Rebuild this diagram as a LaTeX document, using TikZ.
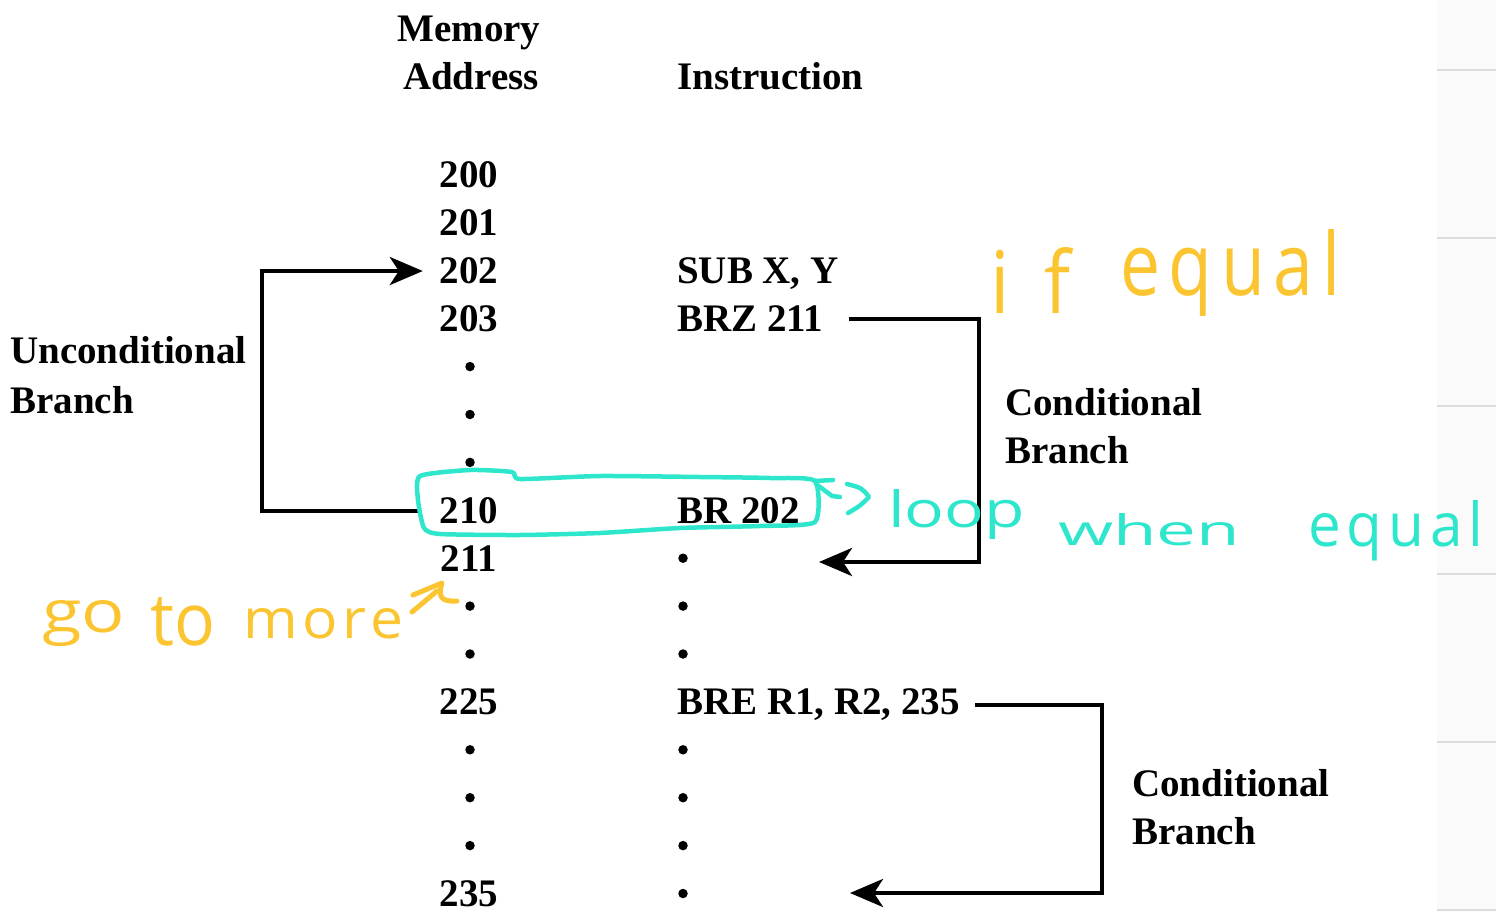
\documentclass[tikz,border=0pt]{standalone}
\usepackage{fontspec}
\usepackage{graphicx}
\setmainfont{Liberation Serif}
\newfontfamily\hand{Open Sans}
\usetikzlibrary{arrows.meta}
\definecolor{penyellow}{HTML}{FBC531}
\definecolor{pencyan}{HTML}{2EE6CC}
\definecolor{stripfill}{HTML}{FAFAFA}
\definecolor{stripline}{HTML}{DCDCDC}
\newcommand\tb{\bfseries\fontsize{39}{47}\selectfont}
% handwritten word scaled into a box of given width and height
\newcommand\hw[3]{\resizebox{#1}{#2}{\hand #3}}

\begin{document}
\begin{tikzpicture}[x=1pt,y=-1pt,
  addr/.style={font=\tb, inner sep=0pt, minimum width=100pt, anchor=base},
  instr/.style={font=\tb, inner sep=0pt, anchor=base west},
  lbl/.style={font=\tb, inner sep=0pt, anchor=base west},
  dotnode/.style={circle, fill=black, inner sep=0pt, minimum size=9.5pt},
  flow/.style={line width=4pt, line join=miter,
    -{Stealth[length=33pt,width=28pt,inset=9pt]}},
  handy/.style={inner sep=0pt, anchor=base west},
  strokey/.style={penyellow, line width=5pt, line cap=round, line join=round},
  strokec/.style={pencyan, line width=4.5pt, line cap=round, line join=round}]
\useasboundingbox (0,0) rectangle (1496,912);

% page strip on the right
\fill[stripfill] (1437,0) rectangle (1496,912);
\foreach \yy in {70,238,406,574,742,910}
  \draw[stripline, line width=1.5pt] (1437,\yy) -- (1496,\yy);

% column headings
\node[font=\tb, inner sep=0pt, anchor=base] (hmem) at (469,42) {Memory};
\node[font=\tb, inner sep=0pt, anchor=base] (hadr) at (471,90) {Address};
\node[lbl] (hins) at (677,90) {Instruction};

% memory addresses
\foreach \r/\t in {0/200,1/201,2/202,3/203,7/210,8/211,11/225,15/235}
  \node[addr] (a\t) at (469,{175+\r*47.9+13}) {\t};
\foreach \r in {4,5,6,9,10,12,13,14}
  \node[dotnode] (ad\r) at (470,{175+\r*47.9}) {};

% instructions
\node[instr] (i202) at (677,{175+2*47.9+13}) {SUB X, Y};
\node[instr] (i203) at (677,{175+3*47.9+13}) {BRZ 211};
\node[instr] (i210) at (677,{175+7*47.9+13}) {BR 202};
\node[instr] (i225) at (677,{175+11*47.9+13}) {BRE R1, R2, 235};
\foreach \r in {8,9,10,12,13,14,15}
  \node[dotnode] (id\r) at (683,{175+\r*47.9}) {};

% branch labels
\node[lbl] (ul1) at (10,363) {Unconditional};
\node[lbl] (ul2) at (10,413) {Branch};
\node[lbl] (cl1) at (1005,415) {Conditional};
\node[lbl] (cl2) at (1005,463) {Branch};
\node[lbl] (dl1) at (1132,796) {Conditional};
\node[lbl] (dl2) at (1132,844) {Branch};

% branch arrows
\coordinate (t211) at (819,562);
\coordinate (t235) at (850,893);
\draw[flow] (a210.west) -- ++(-157,0) |- ([xshift=4pt]a202.west);
\draw[flow] ([xshift=25pt]i203.east) -- ++(130,0) |- (t211);
\draw[flow] ([xshift=15pt]i225.east) -- ++(127,0) |- (t235);

% handwritten notes
\node[handy, text=penyellow] (hif) at (990,313)
  {\hw{80pt}{66pt}{\addfontfeature{LetterSpace=45}if}};
\node[handy, text=penyellow] (heq) at (1120,295)
  {\hw{220pt}{66pt}{\addfontfeature{LetterSpace=12}equal}};

\node[handy, text=pencyan] (hloop) at (888,527) {\hw{137pt}{38pt}{loop}};
\node[handy, text=pencyan] (hwhen) at (1058,545) {\hw{182pt}{32pt}{when}};
\node[handy, text=pencyan] (hequal) at (1308,546)
  {\hw{175pt}{46pt}{\addfontfeature{LetterSpace=10}equal}};

\node[handy, text=penyellow] (hgo) at (42,632) {\hw{83pt}{32pt}{go}};
\node[handy, text=penyellow] (hto) at (150,645) {\hw{65pt}{48pt}{to}};
\node[handy, text=penyellow] (hmore) at (243,638)
  {\hw{160pt}{30pt}{\addfontfeature{LetterSpace=8}more}};

% pen strokes: box round the jump, its pointer, and the note arrow
\draw[strokec] plot[smooth cycle, tension=0.35] coordinates {
  (420,476) (470,470) (512,472) (520,479) (600,476) (700,477) (770,478)
  (815,481) (815,522) (760,526) (680,528) (600,533) (520,535) (440,534)
  (424,528) (418,500)};
\draw[strokec] (815,481) -- (833,480);
\draw[strokec] (816,484) -- (832,496) -- (840,497);
\draw[strokec] (847,484) .. controls (862,488) .. (869,497)
  .. controls (860,506) .. (848,513);

\draw[strokey] (412,612) -- (437,591);
\draw[strokey] (413,595) -- (442,583) .. controls (438,596) and (440,602) .. (457,601);
\end{tikzpicture}
\end{document}
